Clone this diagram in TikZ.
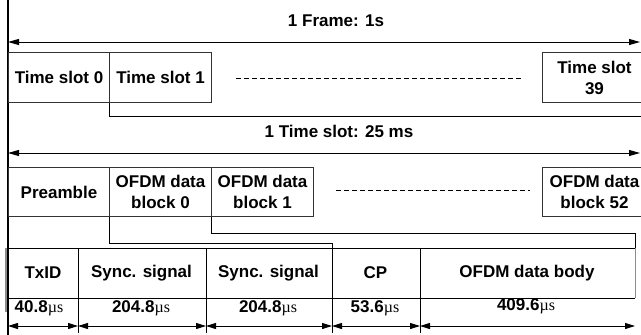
\documentclass[tikz,border=0pt]{standalone}
\usepackage{fontspec}
\setmainfont{Liberation Sans}
\newfontfamily\unitfont{Liberation Serif}
\usetikzlibrary{arrows.meta}
\newcommand{\microsec}{{\unitfont\mdseries\fontsize{16}{18}\selectfont µs}}

\begin{document}
\begin{tikzpicture}[x=1pt,y=1pt,
  font=\fontsize{17}{21}\selectfont\bfseries,
  line width=1pt,
  cell/.style={draw=black!80, inner sep=0pt, align=center, anchor=north west},
  txtcell/.style={inner sep=0pt, align=center, anchor=north west, minimum height=49pt},
  span/.style={{Triangle[length=11pt,width=6pt]}-{Triangle[length=11pt,width=6pt]}},
  dimarrow/.style={{Triangle[length=10pt,width=6pt]}-{Triangle[length=10pt,width=6pt]}},
  gap/.style={dashed, dash pattern=on 5pt off 3pt, line width=0.8pt}]

\clip (0,0) rectangle (641,-335);

% frame axis
\coordinate (axtop) at (8,0);
\coordinate (axbot) at (8,-335);
\draw[line width=1.2pt] (axtop) -- (axbot);

% one frame
\node (framelabel) at (336,-21) {1 Frame: 1s};
\coordinate (frameL) at (8,-42);
\coordinate (frameR) at (640,-42);
\draw[span] (frameL) -- (frameR);

\node[cell, minimum width=101pt, minimum height=50pt] (ts0) at (8,-52) {Time slot 0};
\node[cell, minimum width=102pt, minimum height=50pt] (ts1) at (109,-52) {Time slot 1};
\node[cell, minimum width=104pt, minimum height=50pt] (ts39) at (542,-52) {Time slot\\39};
\coordinate (dashA1) at (236,-78);
\coordinate (dashA2) at (522,-78);
\draw[gap] (dashA1) -- (dashA2);

\coordinate (slotend) at (641,-116);
\draw (ts1.south west) |- (slotend);

% one time slot
\node (slotlabel) at (339,-131) {1 Time slot: 25 ms};
\coordinate (slotL) at (8,-153);
\coordinate (slotR) at (640,-153);
\draw[span] (slotL) -- (slotR);

\node[cell, minimum width=101pt, minimum height=49pt] (pre) at (8,-167) {Preamble};
\node[cell, minimum width=102pt, minimum height=49pt] (b0) at (109,-167) {OFDM data\\block 0};
\node[cell, minimum width=102pt, minimum height=49pt] (b1) at (211,-167) {OFDM data\\block 1};
\node[cell, minimum width=104pt, minimum height=49pt] (b52) at (542,-167) {OFDM data\\block 52};
\coordinate (dashB1) at (336,-190);
\coordinate (dashB2) at (530,-190);
\draw[gap] (dashB1) -- (dashB2);

% preamble and data block structure
\node[txtcell, minimum width=69pt] (txid) at (8,-248) {TxID};
\node[txtcell, minimum width=128pt] (sy1) at (77,-248) {Sync. signal};
\node[txtcell, minimum width=126pt] (sy2) at (205,-248) {Sync. signal};
\node[txtcell, minimum width=88pt] (cp) at (331,-248) {CP};
\node[txtcell, minimum width=215pt] (body) at (419,-248) {OFDM data body};

\draw (b0.south west) -- ++(0,-26) -| (sy2.north east);
\draw (b1.south west) -- ++(0,-16) -| (body.north east);

\draw (txid.north west) -- (body.north east);
\draw (txid.south west) -- (body.south east);
\draw (txid.north east) -- ++(0,-85);
\draw (sy1.north east) -- ++(0,-85);
\draw (sy2.north east) -- ++(0,-85);
\draw (cp.north east) -- ++(0,-85);
\draw[draw=black!45] (body.north east) -- (body.south east);
\draw[draw=black!45, line width=2pt] ([xshift=-2pt]txid.north west) -- ++(0,-64);

% durations
\node (v1) at (39,-308) {40.8\microsec};
\node (v2) at (141,-308) {204.8\microsec};
\node (v3) at (268,-308) {204.8\microsec};
\node (v4) at (375,-308) {53.6\microsec};
\node (v5) at (526,-306) {409.6\microsec};

\path (txid.north west) ++(0,-78) coordinate (d0);
\path (txid.north east) ++(0,-78) coordinate (d1);
\path (sy1.north east) ++(0,-78) coordinate (d2);
\path (sy2.north east) ++(0,-78) coordinate (d3);
\path (cp.north east) ++(0,-78) coordinate (d4);
\path (body.north east) ++(0,-78) coordinate (d5);
\draw[dimarrow] (d0) -- (d1);
\draw[dimarrow] (d1) -- (d2);
\draw[dimarrow] (d2) -- (d3);
\draw[dimarrow] (d3) -- (d4);
\draw[dimarrow] (d4) -- (d5);
\end{tikzpicture}
\end{document}
